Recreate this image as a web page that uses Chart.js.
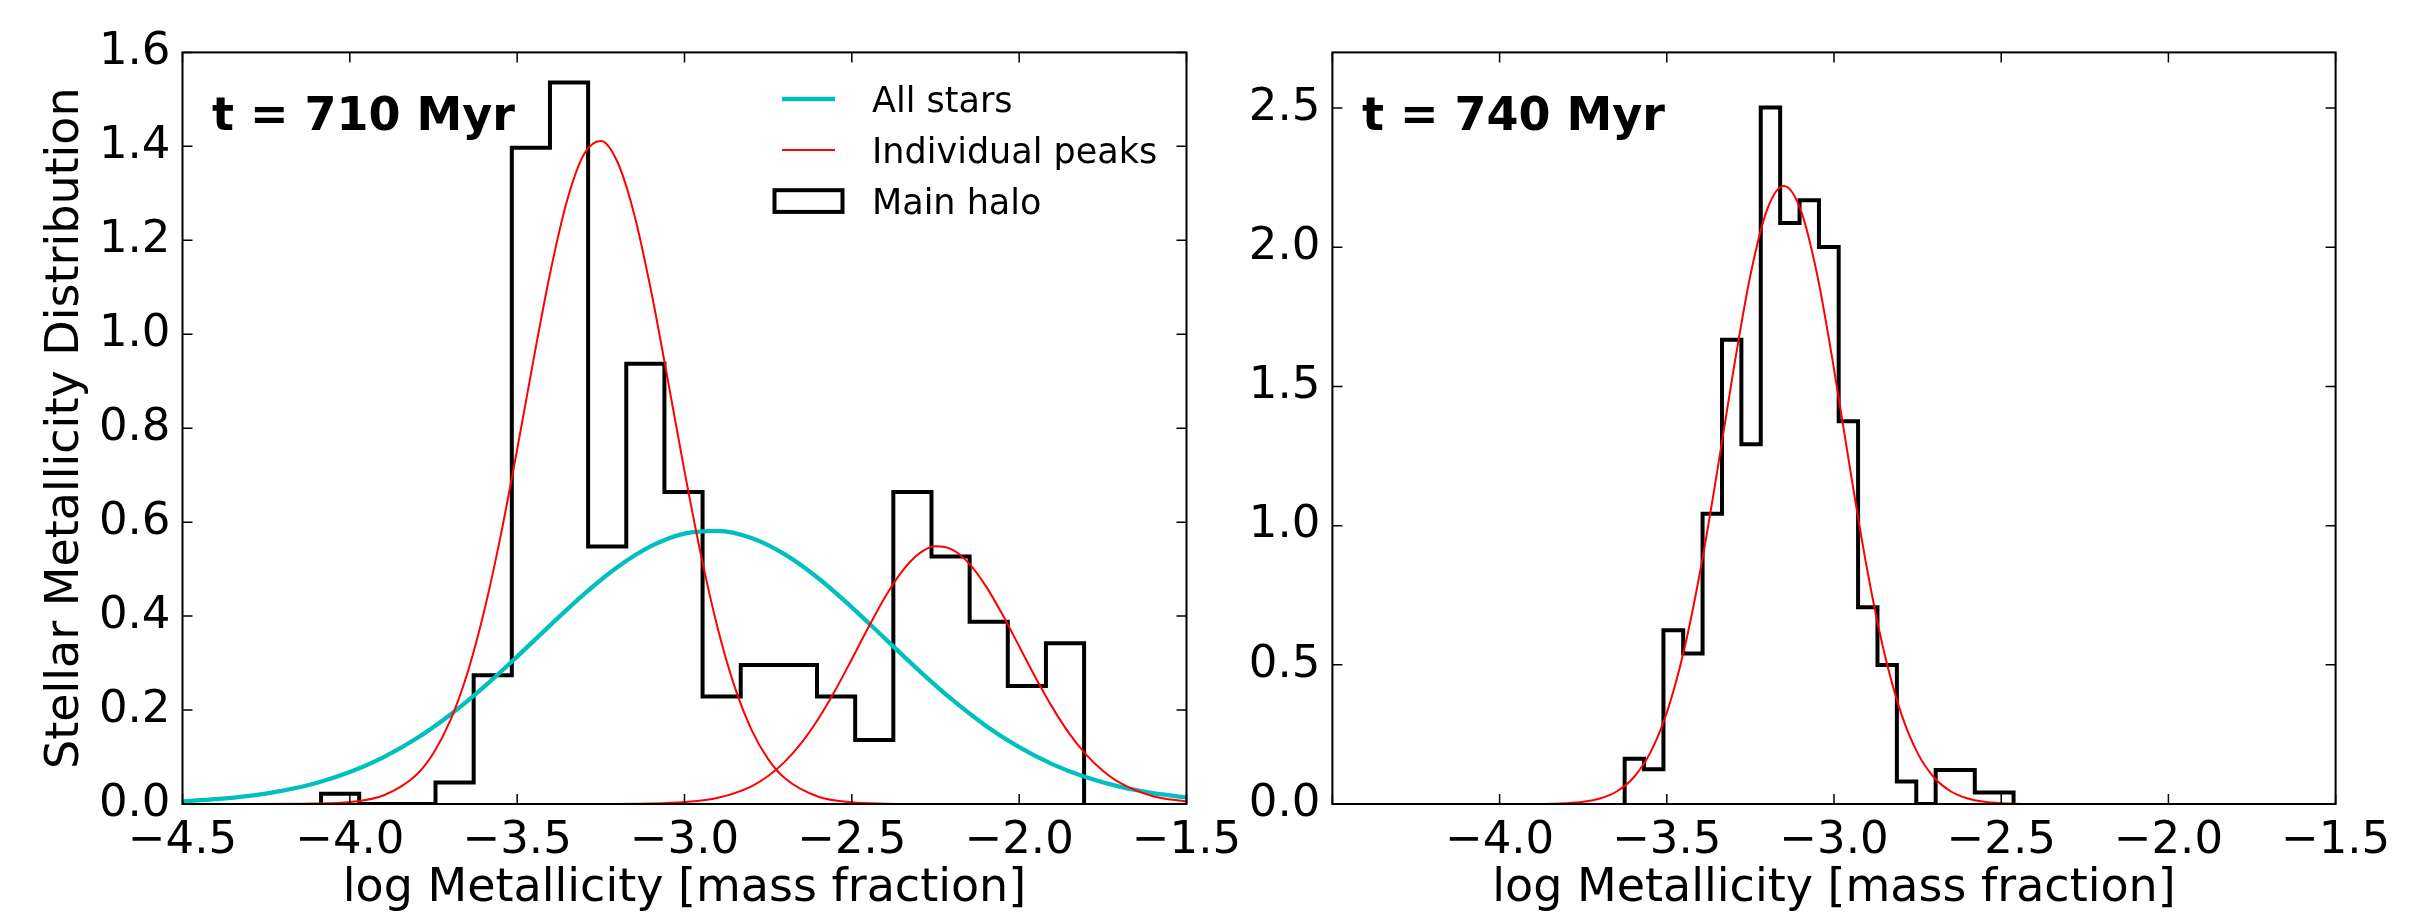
<!DOCTYPE html>
<html>
<head>
<meta charset="utf-8">
<script src="https://cdn.jsdelivr.net/npm/chart.js@4.4.0/dist/chart.umd.min.js"></script>
<style>
  html, body { margin: 0; padding: 0; background: #fff; }
  #wrap { position: relative; width: 2431px; height: 914px; overflow: hidden; background: #fff; }
  canvas { position: absolute; top: 0; }
  #left { left: 0; }
  #right { left: 1200px; }
</style>
</head>
<body>
<div id="wrap">
  <canvas id="left" width="1300" height="914"></canvas>
  <canvas id="right" width="1231" height="914"></canvas>
</div>
<script>
// ---- values ----

// t = 710 Myr : main halo histogram (bin edges + density per bin)
const edges710 = [-4.086, -3.972, -3.858, -3.744, -3.630, -3.516, -3.402, -3.288, -3.174, -3.060, -2.946,
                  -2.832, -2.718, -2.604, -2.490, -2.376, -2.262, -2.148, -2.034, -1.920, -1.806];
const hist710 = [0.022, 0, 0, 0.046, 0.274, 1.397, 1.536, 0.548, 0.937, 0.664,
                 0.229, 0.296, 0.296, 0.229, 0.136, 0.664, 0.527, 0.388, 0.251, 0.342];

// t = 710 Myr : "All stars" curve
const allStarsX = [-4.5, -4.4, -4.3, -4.2, -4.1, -4.0, -3.9, -3.8, -3.7, -3.6, -3.5, -3.4, -3.3, -3.2, -3.1, -3.0,
                   -2.9, -2.8, -2.7, -2.6, -2.5, -2.4, -2.3, -2.2, -2.1, -2.0, -1.9, -1.8, -1.7, -1.6, -1.5];
const allStarsY = [0.0058, 0.0103, 0.0174, 0.0284, 0.0447, 0.0679, 0.0993, 0.1399, 0.1900, 0.2488, 0.3138,
                   0.3814, 0.4469, 0.5045, 0.5489, 0.5755, 0.5815, 0.5662, 0.5313, 0.4805, 0.4187, 0.3516,
                   0.2846, 0.2220, 0.1668, 0.1209, 0.0844, 0.0568, 0.0368, 0.0230, 0.0139];

// t = 710 Myr : individual peaks (low and high metallicity)
const peak1X = [-4.5, -4.3, -4.1, -4.0, -3.9, -3.8, -3.75, -3.7, -3.65, -3.6, -3.55, -3.5, -3.45, -3.4, -3.35, -3.3,
                -3.25, -3.2, -3.15, -3.1, -3.05, -3.0, -2.95, -2.9, -2.85, -2.8, -2.75, -2.7, -2.6, -2.5, -2.4,
                -2.3, -2.1, -1.5];
const peak1Y = [0, 0, 0.0008, 0.0042, 0.0180, 0.0627, 0.1084, 0.1775, 0.2758, 0.4066, 0.5687, 0.7547, 0.9503,
                1.1352, 1.2867, 1.3835, 1.4115, 1.3662, 1.2546, 1.0930, 0.9035, 0.7086, 0.5272, 0.3722, 0.2492,
                0.1584, 0.0955, 0.0546, 0.0153, 0.0035, 0.0006, 0.0001, 0, 0];
const peak2X = [-4.5, -3.5, -3.3, -3.1, -3.0, -2.9, -2.8, -2.75, -2.7, -2.65, -2.6, -2.55, -2.5, -2.45, -2.4, -2.35,
                -2.3, -2.25, -2.2, -2.15, -2.1, -2.05, -2.0, -1.95, -1.9, -1.85, -1.8, -1.75, -1.7, -1.6, -1.5];
const peak2Y = [0, 0, 0, 0.0010, 0.0040, 0.0133, 0.0377, 0.0596, 0.0902, 0.1307, 0.1816, 0.2417, 0.3083, 0.3768,
                0.4412, 0.4951, 0.5324, 0.5485, 0.5416, 0.5123, 0.4644, 0.4034, 0.3357, 0.2678, 0.2046, 0.1498,
                0.1051, 0.0707, 0.0455, 0.0166, 0.0051];

// t = 740 Myr : main halo histogram
const edges740 = [-3.626, -3.568, -3.510, -3.451, -3.393, -3.335, -3.277, -3.219, -3.161, -3.103, -3.045,
                  -2.986, -2.928, -2.870, -2.812, -2.754, -2.696, -2.638, -2.579, -2.521, -2.463];
const hist740 = [0.163, 0.125, 0.624, 0.541, 1.043, 1.668, 1.292, 2.502, 2.087, 2.169,
                 2.001, 1.375, 0.707, 0.499, 0.081, 0, 0.122, 0.122, 0.041, 0.041];

// t = 740 Myr : single peak
const peak740X = [-4.5, -4.2, -4.0, -3.9, -3.8, -3.75, -3.7, -3.65, -3.6, -3.55, -3.5, -3.45, -3.4, -3.35, -3.3,
                  -3.25, -3.2, -3.15, -3.1, -3.05, -3.0, -2.95, -2.9, -2.85, -2.8, -2.75, -2.7, -2.65, -2.6,
                  -2.55, -2.5, -2.4, -2.3, -2.1, -1.5];
const peak740Y = [0, 0, 0, 0.0003, 0.0030, 0.0081, 0.0198, 0.0449, 0.0942, 0.1828, 0.3282, 0.5450, 0.8371,
                  1.1893, 1.5627, 1.8993, 2.1351, 2.2200, 2.1351, 1.8993, 1.5627, 1.1893, 0.8371, 0.5450,
                  0.3282, 0.1828, 0.0942, 0.0449, 0.0198, 0.0081, 0.0030, 0.0003, 0, 0, 0];

const xTicksHidden740 = [-4.5];   // the right panel shows no label at its left edge

const FONT = '"DejaVu Sans", "Liberation Sans", sans-serif';
const CYAN = '#00bfbf';
const RED = '#ff0000';

Chart.defaults.color = '#000';
Chart.defaults.font.family = FONT;
Chart.defaults.font.size = 45;

// histogram outline as a step path
function stepOutline(edges, heights) {
  const pts = [{x: edges[0], y: 0}];
  heights.forEach((h, i) => {
    pts.push({x: edges[i], y: h});
    pts.push({x: edges[i + 1], y: h});
  });
  pts.push({x: edges[edges.length - 1], y: 0});
  return pts;
}

function zip(xs, ys) {
  return xs.map((x, i) => ({x: x, y: ys[i]}));
}

function minus(v) {
  return v.toFixed(1).replace('-', '\u2212');
}

function curve(label, xs, ys, color, width) {
  return {
    label: label, data: zip(xs, ys), borderColor: color, borderWidth: width,
    showLine: true, pointRadius: 0, fill: false, cubicInterpolationMode: 'monotone', order: 0
  };
}

function histogram(edges, heights) {
  return {
    label: 'Main halo', data: stepOutline(edges, heights), borderColor: '#000', borderWidth: 4,
    showLine: true, pointRadius: 0, fill: false, tension: 0, borderJoinStyle: 'miter', order: 2
  };
}

// frame on all four sides + inward ticks (matplotlib classic look)
const framePlugin = {
  id: 'frame',
  afterDatasetsDraw(chart) {
    const {ctx, chartArea: a, scales} = chart;
    ctx.save();
    ctx.strokeStyle = '#000';
    ctx.lineWidth = 1.5;
    ctx.beginPath();
    scales.x.ticks.forEach(t => {
      const px = scales.x.getPixelForValue(t.value);
      ctx.moveTo(px, a.bottom); ctx.lineTo(px, a.bottom - 10);
      ctx.moveTo(px, a.top); ctx.lineTo(px, a.top + 10);
    });
    scales.y.ticks.forEach(t => {
      const py = scales.y.getPixelForValue(t.value);
      ctx.moveTo(a.left, py); ctx.lineTo(a.left + 10, py);
      ctx.moveTo(a.right, py); ctx.lineTo(a.right - 10, py);
    });
    ctx.stroke();
    ctx.lineWidth = 2;
    ctx.strokeRect(a.left, a.top, a.right - a.left, a.bottom - a.top);
    ctx.restore();
  }
};

// panel time label and the hand-placed legend
const labelPlugin = {
  id: 'panelLabel',
  afterDraw(chart, args, opts) {
    const {ctx, chartArea: a} = chart;
    ctx.save();
    ctx.fillStyle = '#000';
    ctx.textBaseline = 'alphabetic';
    ctx.font = 'bold 46px ' + FONT;
    ctx.fillText(opts.text, a.left + 29.5, a.top + 78);

    if (opts.legend) {
      ctx.font = '35px ' + FONT;
      opts.legend.forEach((item, i) => {
        const cy = a.top + 46.6 + i * 51;
        ctx.strokeStyle = item.color;
        ctx.lineWidth = item.width;
        if (item.box) {
          ctx.strokeRect(a.right - 412, cy - 10.8, 68, 21.7);
        } else {
          ctx.beginPath();
          ctx.moveTo(a.right - 404.5, cy);
          ctx.lineTo(a.right - 351.5, cy);
          ctx.stroke();
        }
        ctx.fillText(item.text, a.right - 314.5, cy + 12.7);
      });
    }
    ctx.restore();
  }
};

function xScale(hidden) {
  return {
    type: 'linear', min: -4.5, max: -1.5,
    afterFit: s => { s.height = 110; },
    grid: {display: false, drawTicks: false},
    border: {display: false},
    ticks: {
      stepSize: 0.5, padding: 10, autoSkip: false, maxRotation: 0, includeBounds: false,
      callback: v => hidden.some(h => Math.abs(h - v) < 1e-6) ? '' : minus(v)
    },
    title: {
      display: true, text: 'log Metallicity [mass fraction]',
      font: {size: 46, lineHeight: 1}, padding: {top: 0, bottom: 2}
    }
  };
}

// ---- t = 710 Myr ----
new Chart(document.getElementById('left'), {
  type: 'scatter',
  data: {
    datasets: [
      curve('Individual peaks', peak1X, peak1Y, RED, 2),
      curve('Individual peaks', peak2X, peak2Y, RED, 2),
      Object.assign(curve('All stars', allStarsX, allStarsY, CYAN, 4.3), {order: 1}),
      histogram(edges710, hist710)
    ]
  },
  options: {
    responsive: false, animation: false,
    layout: {padding: {top: 52.4, right: 113.5, left: 0, bottom: 0}},
    plugins: {
      legend: {display: false}, tooltip: {enabled: false},
      panelLabel: {
        text: 't = 710 Myr',
        legend: [
          {text: 'All stars', color: CYAN, width: 4.3},
          {text: 'Individual peaks', color: RED, width: 2},
          {text: 'Main halo', color: '#000', width: 4, box: true}
        ]
      }
    },
    scales: {
      x: xScale([]),
      y: {
        min: 0, max: 1.6,
        afterFit: s => { s.width = 182.5; },
        grid: {display: false, drawTicks: false},
        border: {display: false},
        ticks: {stepSize: 0.2, padding: 12, includeBounds: false, callback: v => v.toFixed(1)},
        title: {
          display: true, text: 'Stellar Metallicity Distribution',
          font: {size: 46, lineHeight: 1}, padding: {top: 43, bottom: 0}
        }
      }
    }
  },
  plugins: [framePlugin, labelPlugin]
});

// ---- t = 740 Myr ----
new Chart(document.getElementById('right'), {
  type: 'scatter',
  data: {
    datasets: [
      curve('Individual peaks', peak740X, peak740Y, RED, 2),
      histogram(edges740, hist740)
    ]
  },
  options: {
    responsive: false, animation: false,
    layout: {padding: {top: 52.4, right: 95.4, left: 0, bottom: 0}},
    plugins: {
      legend: {display: false}, tooltip: {enabled: false},
      panelLabel: {text: 't = 740 Myr'}
    },
    scales: {
      x: xScale(xTicksHidden740),
      y: {
        min: 0, max: 2.7,
        afterFit: s => { s.width = 132.4; },
        grid: {display: false, drawTicks: false},
        border: {display: false},
        ticks: {stepSize: 0.5, padding: 12, includeBounds: false, callback: v => v.toFixed(1)}
      }
    }
  },
  plugins: [framePlugin, labelPlugin]
});
</script>
</body>
</html>
